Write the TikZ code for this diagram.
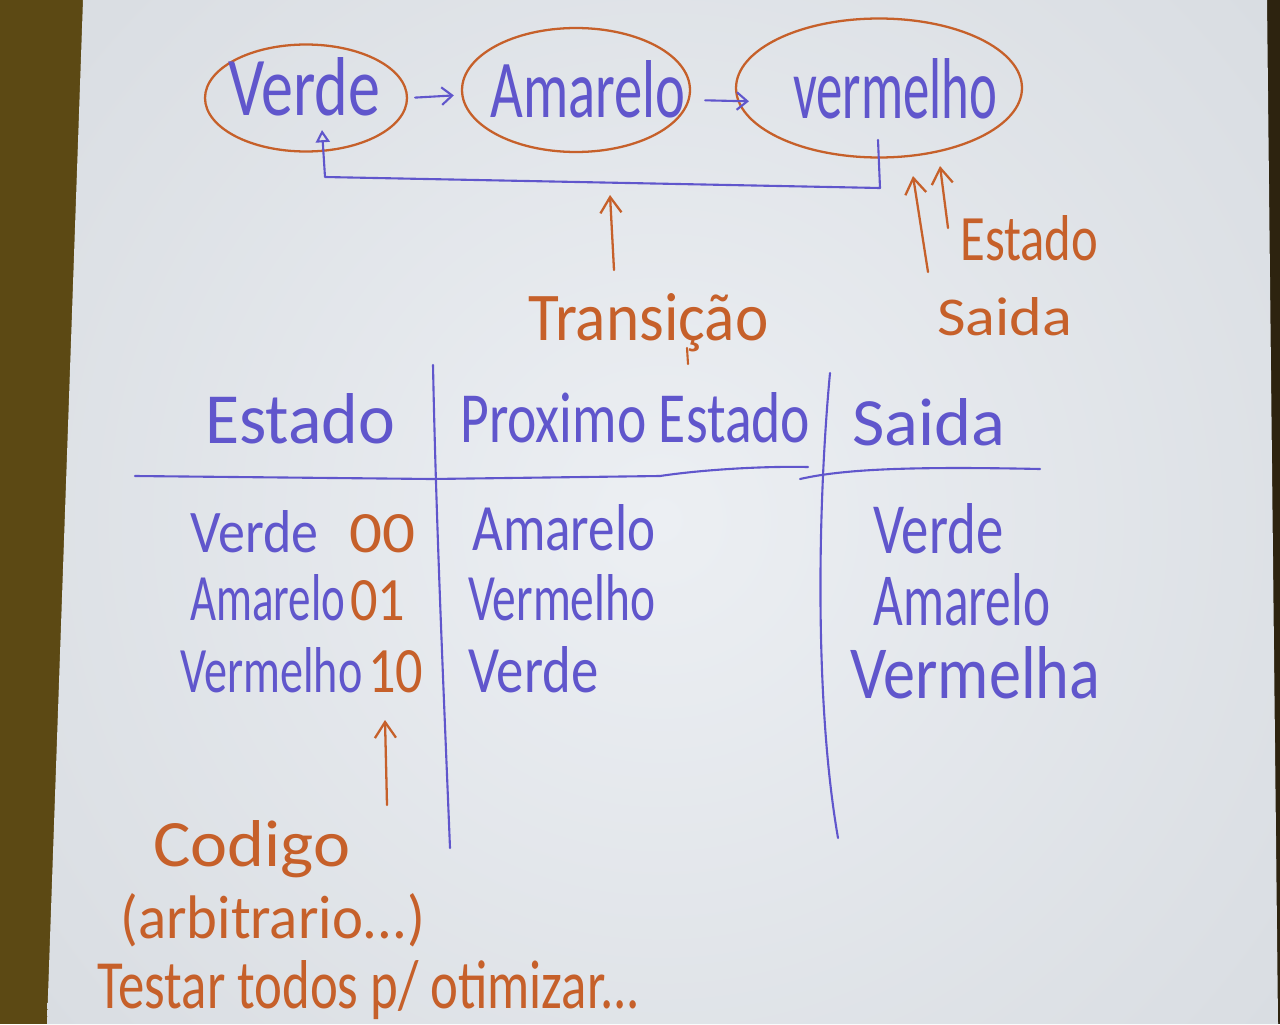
\documentclass[tikz,border=0pt]{standalone}
\usepackage{fontspec}
\setmainfont{Carlito}
\usetikzlibrary{shapes.geometric,arrows.meta}
\definecolor{ink}{RGB}{96,86,204}
\definecolor{rust}{RGB}{198,96,42}
\definecolor{desk}{RGB}{92,73,20}
\definecolor{deskdark}{RGB}{45,35,15}
\definecolor{paperhi}{RGB}{236,239,243}
\definecolor{paperlo}{RGB}{200,205,211}
\newlength\pxu
\setlength\pxu{0.5690pt}
\newcommand\hw[3]{\resizebox{#1\pxu}{#2\pxu}{#3}}
\tikzset{
  lbl/.style={inner sep=0pt, anchor=base west},
  blue lbl/.style={lbl, text=ink},
  rust lbl/.style={lbl, text=rust},
  stbox/.style={ellipse, draw=rust, line width=1.3pt, inner sep=0pt},
  inkline/.style={draw=ink, line width=1.2pt, line cap=round, line join=round},
  inkarrow/.style={inkline, -{Straight Barb[length=6pt,width=10pt]}},
  retarrow/.style={inkline, -{Triangle[open,length=7pt,width=8pt]}},
  rustarrow/.style={draw=rust, line width=1.3pt, line cap=round, -{Straight Barb[length=9pt,width=12pt]}},
}
\begin{document}
\begin{tikzpicture}[x=0.02cm,y=-0.02cm]
% background
\fill[desk] (0,0) rectangle (1280,1024);
\fill[deskdark] (1266,0) rectangle (1280,1024);
\begin{scope}
  \clip (83,0) -- (1267,0) -- (1278,1024) -- (47,1024) -- cycle;
  \shade[inner color=paperhi, outer color=paperlo] (660,520) circle (1500);
\end{scope}
\useasboundingbox (0,0) rectangle (1280,1024);

% state ellipses
\node[stbox, minimum width=4.04cm, minimum height=2.14cm] (sV) at (306,98) {};
\node[stbox, minimum width=4.56cm, minimum height=2.48cm] (sA) at (576,90) {};
\node[stbox, minimum width=5.72cm, minimum height=2.78cm] (sR) at (879,88) {};
\node[blue lbl] (tV) at (228,115) {\hw{152}{58}{Verde}};
\node[blue lbl] (tA) at (490,117) {\hw{195}{57}{Amarelo}};
\node[blue lbl] (tR) at (793,118) {\hw{204}{60}{vermelho}};

% transitions
\draw[inkarrow, shorten <=4pt, shorten >=4pt] (sV.east) -- ([yshift=-0.1cm]sA.west);
\draw[inkarrow, shorten <=8pt, shorten >=-8pt] ([yshift=-0.2cm]sA.east) -- ([yshift=-0.26cm]sR.west);
\coordinate (retS) at (878,140);
\coordinate (retE) at (322,130);
\draw[retarrow] (retS) -- (880,188) -- (325,177) -- (retE);

% annotations
\node[rust lbl] (trans) at (528,340) {\hw{240}{47}{Transição}};
\coordinate (transA) at (614,270);
\coordinate (transB) at (610,195);
\draw[rustarrow] (transA) -- (transB);
\draw[draw=rust, line width=1.2pt, line cap=round] (687,348) -- (688,364);

\node[rust lbl] (estR) at (960,260) {\hw{138}{45}{Estado}};
\node[rust lbl] (saiR) at (937,335) {\hw{135}{38}{Saida}};
\coordinate (estA) at (948,228);
\coordinate (estB) at (940,166);
\coordinate (saiA) at (928,272);
\coordinate (saiB) at (913,176);
\draw[rustarrow] (estA) -- (estB);
\draw[rustarrow] (saiA) -- (saiB);

% table lines
\draw[inkline] (135,476) -- (432,479) -- (660,476) .. controls (700,470) and (760,466) .. (808,467);
\draw[inkline] (800,479) .. controls (840,470) and (900,466) .. (1040,469);
\draw[inkline] (433,365) .. controls (436,520) and (444,700) .. (450,848);
\draw[inkline] (830,373) .. controls (818,500) and (814,700) .. (838,838);

% headers
\node[blue lbl] (hE) at (205,443) {\hw{190}{50}{Estado}};
\node[blue lbl] (hP) at (460,442) {\hw{350}{50}{Proximo Estado}};
\node[blue lbl] (hS) at (852,445) {\hw{153}{47}{Saida}};

% rows: state + code
\node[blue lbl] (r1) at (190,552) {\hw{128}{42}{Verde}};
\node[rust lbl] (c1) at (349,552) {\hw{66}{38}{00}};
\node[blue lbl] (r2) at (190,620) {\hw{155}{46}{Amarelo}};
\node[rust lbl] (c2) at (350,620) {\hw{55}{40}{01}};
\node[blue lbl] (r3) at (180,692) {\hw{182}{45}{Vermelho}};
\node[rust lbl] (c3) at (368,692) {\hw{55}{42}{10}};

% next state
\node[blue lbl] (n1) at (472,550) {\hw{183}{46}{Amarelo}};
\node[blue lbl] (n2) at (468,620) {\hw{187}{46}{Vermelho}};
\node[blue lbl] (n3) at (468,692) {\hw{130}{46}{Verde}};

% output
\node[blue lbl] (o1) at (873,553) {\hw{130}{50}{Verde}};
\node[blue lbl] (o2) at (873,625) {\hw{177}{52}{Amarelo}};
\node[blue lbl] (o3) at (850,698) {\hw{250}{52}{Vermelha}};

% code note
\coordinate (codA) at (387,805);
\coordinate (codB) at (385,720);
\draw[rustarrow] (codA) -- (codB);
\node[rust lbl] (cod) at (153,866) {\hw{197}{46}{Codigo}};
\node[rust lbl] (arb) at (120,938) {\hw{305}{45}{(arbitrario...)}};
\node[rust lbl] (tst) at (97,1008) {\hw{543}{48}{Testar todos p/ otimizar...}};
\end{tikzpicture}
\end{document}
